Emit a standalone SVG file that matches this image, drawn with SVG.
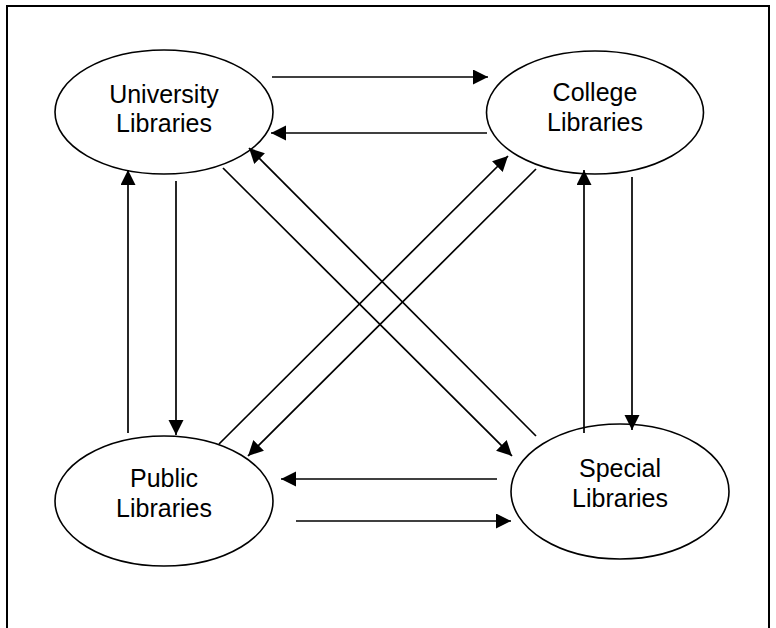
<svg xmlns="http://www.w3.org/2000/svg" width="776" height="628" viewBox="0 0 776 628">
<style>
.node ellipse{fill:#fff;stroke:#000;stroke-width:1.6}
.node text{font-family:"Liberation Sans",Arial,sans-serif;font-size:25px;fill:#000;text-anchor:middle}
.conn line{stroke:#000;stroke-width:1.7;fill:none}
.conn .a{marker-end:url(#ah)}
</style>
<defs>
<marker id="ah" markerUnits="userSpaceOnUse" markerWidth="16" markerHeight="16" refX="15" refY="7.5" orient="auto">
<path d="M0,0 L15,7.5 L0,15 z" fill="#000"/>
</marker>
</defs>
<rect x="7" y="6" width="762" height="640" fill="#fff" stroke="#000" stroke-width="2"/>
<g id="university" class="node">
<ellipse cx="164" cy="112" rx="109" ry="62"/>
<text x="164" y="103">University</text>
<text x="164" y="132">Libraries</text>
</g>
<g id="college" class="node">
<ellipse cx="595" cy="112.5" rx="108.5" ry="61.5"/>
<text x="595" y="101">College</text>
<text x="595" y="131">Libraries</text>
</g>
<g id="public" class="node">
<ellipse cx="164" cy="501" rx="109" ry="65"/>
<text x="164" y="487">Public</text>
<text x="164" y="517">Libraries</text>
</g>
<g id="special" class="node">
<ellipse cx="620" cy="491.5" rx="109" ry="67.5"/>
<text x="620" y="477">Special</text>
<text x="620" y="507">Libraries</text>
</g>
<g id="connectors" class="conn">
<line class="a" x1="272" y1="77" x2="488" y2="77"/>
<line class="a" x1="487" y1="133" x2="271" y2="133"/>
<line class="a" x1="128" y1="433" x2="128" y2="170"/>
<line class="a" x1="176" y1="181" x2="176" y2="435"/>
<line class="a" x1="584" y1="433" x2="584" y2="170"/>
<line class="a" x1="632" y1="177" x2="632" y2="430"/>
<line class="a" x1="497" y1="479" x2="281" y2="479"/>
<line class="a" x1="296" y1="521" x2="511" y2="521"/>
<line class="a" x1="223" y1="168" x2="512" y2="456"/>
<line class="a" x1="536" y1="436" x2="249" y2="148"/>
<line class="a" x1="219" y1="444" x2="508" y2="156"/>
<line class="a" x1="536" y1="169" x2="248" y2="456"/>
</g>
</svg>
